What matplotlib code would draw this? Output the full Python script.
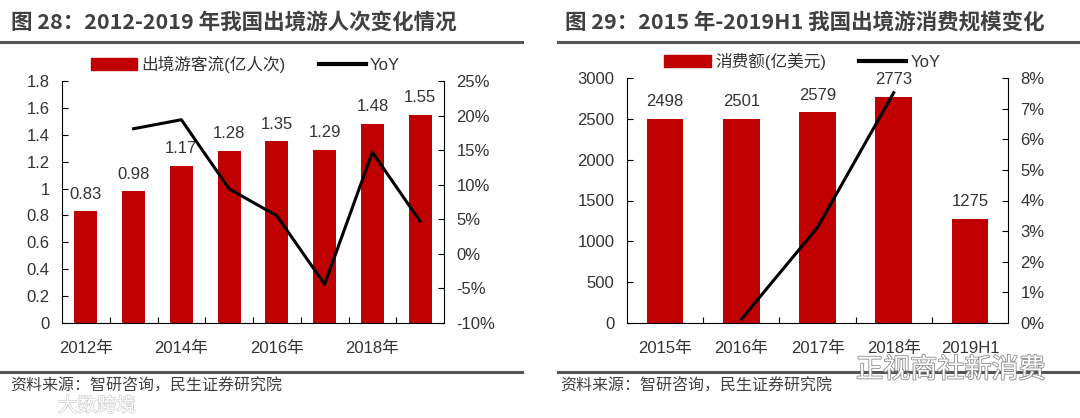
import numpy as np
import matplotlib
matplotlib.use('Agg')
import matplotlib.pyplot as plt
from matplotlib.lines import Line2D
from matplotlib.patches import Patch
import matplotlib.patheffects as pe

plt.rcParams['font.family'] = ['Liberation Sans', 'Noto Sans CJK SC']

# figure 28 data
years1 = ['2012年', '2013年', '2014年', '2015年', '2016年', '2017年', '2018年', '2019年']
tourists = [0.83, 0.98, 1.17, 1.28, 1.35, 1.29, 1.48, 1.55]
tourists_yoy = [np.nan, 18.1, 19.4, 9.4, 5.5, -4.4, 14.7, 4.7]

# figure 29 data
years2 = ['2015年', '2016年', '2017年', '2018年', '2019H1']
spend = [2498, 2501, 2579, 2773, 1275]
spend_yoy = [np.nan, 0.12, 3.12, 7.52, np.nan]

RED = '#C00000'
TXT = '#333333'
W, H = 1080, 418
FS = 12

fig = plt.figure(figsize=(W / 100, H / 100), dpi=100)


def fx(px):
    return px / W


def fy(py):
    return 1 - py / H


def panel(x0, x1, ytop, cats, vals, yoy, ylim, yticks, ylabels, y2lim, y2ticks,
          label, every, fmt, leg_x):
    ax = fig.add_axes([fx(x0), fy(323), fx(x1 - x0), fy(ytop) - fy(323)])
    x = np.arange(len(cats))
    ax.bar(x, vals, width=0.48, color=RED, zorder=2)
    for xi, v in zip(x, vals):
        ax.annotate(fmt(v), (xi, v), xytext=(0, 7), textcoords='offset points',
                    ha='center', va='bottom', fontsize=FS, color=TXT)
    ax.set_xlim(-0.5, len(cats) - 0.5)
    ax.set_ylim(*ylim)
    ax.set_yticks(yticks)
    ax.set_yticklabels(ylabels)
    ax.set_xticks(x[::every])
    ax.set_xticklabels(cats[::every])
    ax.set_xticks(np.arange(0.5, len(cats) - 1, 1), minor=True)
    ax.tick_params(axis='x', which='major', length=0, pad=13, labelsize=FS, labelcolor=TXT)
    ax.tick_params(axis='x', which='minor', direction='in', length=4, width=0.8)
    ax.tick_params(axis='y', direction='in', length=4, width=0.8, pad=9,
                   labelsize=FS, labelcolor=TXT)
    for s in ['top', 'right']:
        ax.spines[s].set_visible(False)

    ax2 = ax.twinx()
    ax2.plot(x, yoy, color='black', lw=2.2, zorder=3)
    ax2.set_ylim(*y2lim)
    ax2.set_yticks(y2ticks)
    ax2.set_yticklabels(['%d%%' % t for t in y2ticks])
    ax2.tick_params(axis='y', direction='in', length=4, width=0.8, pad=9,
                    labelsize=FS, labelcolor=TXT)
    for s in ['top', 'left', 'bottom']:
        ax2.spines[s].set_visible(False)

    handles = [Patch(color=RED, label=label),
               Line2D([], [], color='black', lw=3, label='YoY')]
    ax2.legend(handles=handles, loc='center', ncol=2, frameon=False,
               bbox_to_anchor=(leg_x, 1.07), fontsize=FS, handlelength=2.8,
               handletextpad=0.25, columnspacing=2.0, labelcolor=TXT)
    return ax, ax2


panel(62, 444, 81, years1, tourists, tourists_yoy, (0, 1.8),
      np.arange(0, 1.81, 0.2), ['0', '0.2', '0.4', '0.6', '0.8', '1', '1.2', '1.4', '1.6', '1.8'],
      (-10, 25), list(range(-10, 26, 5)), '出境游客流(亿人次)', 2,
      lambda v: '%.2f' % v, 0.48)

panel(627, 1008, 78, years2, spend, spend_yoy, (0, 3000),
      list(range(0, 3001, 500)), [str(t) for t in range(0, 3001, 500)],
      (0, 8), list(range(0, 9)), '消费额(亿美元)', 1,
      lambda v: '%d' % v, 0.46)

# titles and rules
cjk = ['Noto Sans CJK SC', 'DejaVu Sans']
fig.text(fx(11), fy(22), '图 28：2012-2019 年我国出境游人次变化情况', fontsize=15.5,
         fontweight='bold', color='#404040', family=cjk, va='center', ha='left')
fig.text(fx(565), fy(22), '图 29：2015 年-2019H1 我国出境游消费规模变化', fontsize=15.5,
         fontweight='bold', color='#404040', family=cjk, va='center', ha='left')
for (a, b) in [(0, 522), (558, 1080)]:
    for yy in (42, 372):
        fig.add_artist(Line2D([fx(a), fx(b)], [fy(yy), fy(yy)], color='#555555', lw=2.2))

src = '资料来源：智研咨询，民生证券研究院'
fig.text(fx(10), fy(386), src, fontsize=11.5, color='#404040', family=cjk, va='center')
fig.text(fx(560), fy(386), src, fontsize=11.5, color='#404040', family=cjk, va='center')

# watermarks
fig.text(fx(951), fy(370), '正视商社新消费', fontsize=19.5, color='white', family=cjk,
         ha='center', va='center',
         path_effects=[pe.withStroke(linewidth=1.2, foreground='#8a8a8a')])
fig.text(fx(97), fy(406), '大数跨境', fontsize=14, color='white', family=cjk,
         ha='center', va='center',
         path_effects=[pe.withStroke(linewidth=1.0, foreground='#d0d0d0')])

fig.savefig('out.png', dpi=100)
